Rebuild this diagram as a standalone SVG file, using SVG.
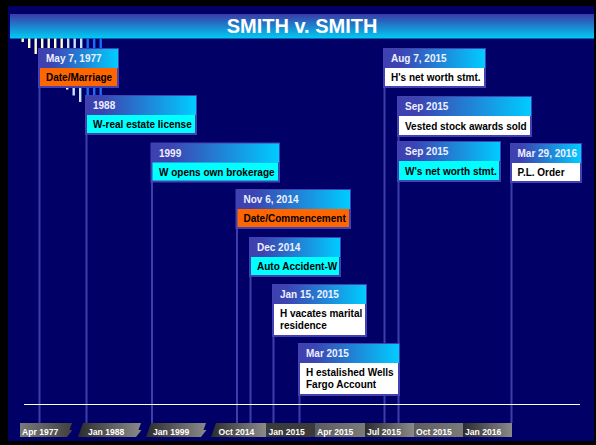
<svg xmlns="http://www.w3.org/2000/svg" width="596" height="445" viewBox="0 0 596 445">
<defs>
<linearGradient id="gTitle" x1="0" y1="0" x2="0" y2="1"><stop offset="0" stop-color="#3a3aa8"/><stop offset="1" stop-color="#00ccf4"/></linearGradient>
<linearGradient id="gHead" x1="0" y1="0" x2="1" y2="0"><stop offset="0" stop-color="#4040b0"/><stop offset="0.15" stop-color="#3c44b2"/><stop offset="1" stop-color="#00ccff"/></linearGradient>
<linearGradient id="gDark" x1="0" y1="0" x2="1" y2="0"><stop offset="0" stop-color="#2c2c2c"/><stop offset="1" stop-color="#8a8a8a"/></linearGradient>
<linearGradient id="gLight" x1="0" y1="0" x2="1" y2="0"><stop offset="0" stop-color="#5c5c5c"/><stop offset="1" stop-color="#7a7a7a"/></linearGradient>
<linearGradient id="gFirst" x1="0" y1="0" x2="1" y2="0"><stop offset="0" stop-color="#7a7a7a"/><stop offset="1" stop-color="#404040"/></linearGradient>
</defs>
<style>
text{font-family:"Liberation Sans",Arial,sans-serif;font-weight:bold}
.ttl{font-size:20px;fill:#ffffff}
.hd{font-size:10px;fill:#f0f0ff}
.bd{font-size:10px;fill:#000000}
.ax{font-size:8.6px;fill:#ffffff}
.frame{fill:#4242b2}
.head{fill:url(#gHead)}
.orange{fill:#ff6600}
.cyan{fill:#00ffff}
.white{fill:#ffffff}
.conn line{stroke:#3e3eaa;stroke-width:2}
.yel{fill:#ffffcc}
.lb{fill:#c4e4ff}
.bl{fill:#1a6cff}
</style>
<rect x="0" y="0" width="596" height="445" fill="#000000"/>
<rect x="8" y="6" width="586" height="435" fill="#000066"/>
<g id="title">
<rect x="10" y="14" width="584" height="24.5" fill="url(#gTitle)"/>
<text class="ttl" x="302" y="32.5" text-anchor="middle">SMITH v. SMITH</text>
</g>
<g id="deco">
<rect class="yel" x="21.5" y="38.5" width="2.4" height="3.5"/>
<rect class="yel" x="28" y="38.5" width="2.4" height="9.5"/>
<rect class="yel" x="34.5" y="38.5" width="2.4" height="15.5"/>
<rect class="yel" x="41" y="38.5" width="2.4" height="10"/>
<rect class="yel" x="47.5" y="38.5" width="2.4" height="10"/>
<rect class="yel" x="54" y="38.5" width="2.4" height="10"/>
<rect class="yel" x="60.5" y="38.5" width="2.4" height="10"/>
<rect class="lb" x="67" y="38.5" width="2.4" height="10"/>
<rect class="lb" x="73.5" y="38.5" width="2.4" height="10"/>
<rect class="lb" x="80" y="38.5" width="2.4" height="10"/>
<rect class="bl" x="86.5" y="38.5" width="2.4" height="10"/>
<rect class="bl" x="93" y="38.5" width="2.4" height="10"/>
<rect class="bl" x="99.5" y="38.5" width="2.4" height="10"/>
<rect class="white" x="66" y="88" width="2.4" height="1.5"/>
<rect class="lb" x="72.5" y="88" width="2.4" height="7.5"/>
<rect class="lb" x="79" y="88" width="2.4" height="14"/>
<rect class="bl" x="86.5" y="88" width="2.4" height="7.5"/>
<rect class="bl" x="93" y="88" width="2.4" height="7.5"/>
<rect class="bl" x="99.5" y="88" width="2.4" height="7.5"/>
</g>
<g id="connectors" class="conn">
<line x1="39.5" y1="88" x2="39.5" y2="423"/>
<line x1="86.5" y1="135" x2="86.5" y2="423"/>
<line x1="152" y1="182" x2="152" y2="423"/>
<line x1="237" y1="229" x2="237" y2="423"/>
<line x1="250.5" y1="277" x2="250.5" y2="423"/>
<line x1="273.5" y1="337" x2="273.5" y2="423"/>
<line x1="299.5" y1="396" x2="299.5" y2="423"/>
<line x1="384.5" y1="88" x2="384.5" y2="423"/>
<line x1="398.5" y1="137" x2="398.5" y2="423"/>
<line x1="511.5" y1="183" x2="511.5" y2="423"/>
</g>
<g id="axis">
<line x1="24" y1="404.5" x2="580" y2="404.5" stroke="#ffffff" stroke-width="1"/>
<polygon points="20,423 72,423 69.5,430 72.5,430 67,437 20,437" fill="url(#gFirst)"/>
<polygon points="83,423 141,423 138.5,430 141.5,430 136,437 78,437" fill="url(#gDark)"/>
<polygon points="151,423 206,423 203.5,430 206.5,430 201,437 146,437" fill="url(#gDark)"/>
<polygon points="216,423 266,423 266,437 211,437" fill="url(#gDark)"/>
<rect x="266" y="423" width="49" height="14" fill="#3a3a3a"/>
<rect x="315" y="423" width="50" height="14" fill="url(#gLight)"/>
<rect x="365" y="423" width="49" height="14" fill="url(#gDark)"/>
<rect x="414" y="423" width="49" height="14" fill="url(#gLight)"/>
<rect x="463" y="423" width="49" height="14" fill="url(#gDark)"/>
<text class="ax" x="22" y="434.5">Apr 1977</text>
<text class="ax" x="88" y="434.5">Jan 1988</text>
<text class="ax" x="153" y="434.5">Jan 1999</text>
<text class="ax" x="218.5" y="434.5">Oct 2014</text>
<text class="ax" x="268.5" y="434.5">Jan 2015</text>
<text class="ax" x="317" y="434.5">Apr 2015</text>
<text class="ax" x="367" y="434.5">Jul 2015</text>
<text class="ax" x="416" y="434.5">Oct 2015</text>
<text class="ax" x="465" y="434.5">Jan 2016</text>
</g>
<g id="n1977">
<rect class="frame" x="38" y="48" width="81" height="40"/>
<rect class="head" x="39" y="49" width="79" height="19"/>
<rect class="orange" x="40" y="68" width="77" height="18"/>
<text class="hd" x="46" y="62">May 7, 1977</text>
<text class="bd" x="46" y="81">Date/Marriage</text>
</g>
<g id="n1988">
<rect class="frame" x="85" y="95" width="112" height="40"/>
<rect class="head" x="86" y="96" width="110" height="19"/>
<rect class="cyan" x="87" y="115" width="108" height="18"/>
<text class="hd" x="93" y="109">1988</text>
<text class="bd" x="93" y="128">W-real estate license</text>
</g>
<g id="n1999">
<rect class="frame" x="150.5" y="142.5" width="129.5" height="40"/>
<rect class="head" x="151.5" y="143.5" width="127.5" height="19"/>
<rect class="cyan" x="152.5" y="162.5" width="125.5" height="18"/>
<text class="hd" x="159" y="156.5">1999</text>
<text class="bd" x="159" y="175.5">W opens own brokerage</text>
</g>
<g id="n2014nov">
<rect class="frame" x="235.5" y="189" width="115.5" height="40"/>
<rect class="head" x="236.5" y="190" width="113.5" height="19"/>
<rect class="orange" x="237.5" y="209" width="111.5" height="18"/>
<text class="hd" x="243.5" y="203">Nov 6, 2014</text>
<text class="bd" x="243.5" y="222">Date/Commencement</text>
</g>
<g id="n2014dec">
<rect class="frame" x="249" y="237" width="92" height="40"/>
<rect class="head" x="250" y="238" width="90" height="19"/>
<rect class="cyan" x="251" y="257" width="88" height="18"/>
<text class="hd" x="257" y="251">Dec 2014</text>
<text class="bd" x="257" y="270">Auto Accident-W</text>
</g>
<g id="n2015jan">
<rect class="frame" x="272" y="284" width="95" height="53"/>
<rect class="head" x="273" y="285" width="93" height="19"/>
<rect class="white" x="274" y="304" width="91" height="31"/>
<text class="hd" x="280" y="298">Jan 15, 2015</text>
<text class="bd" x="280" y="316.5">H vacates marital</text>
<text class="bd" x="280" y="329">residence</text>
</g>
<g id="n2015mar">
<rect class="frame" x="298" y="343" width="102" height="53"/>
<rect class="head" x="299" y="344" width="100" height="19"/>
<rect class="white" x="300" y="363" width="98" height="31"/>
<text class="hd" x="306" y="357">Mar 2015</text>
<text class="bd" x="306" y="375.5">H estalished Wells</text>
<text class="bd" x="306" y="388">Fargo Account</text>
</g>
<g id="n2015aug">
<rect class="frame" x="383" y="48" width="103" height="40"/>
<rect class="head" x="384" y="49" width="101" height="19"/>
<rect class="white" x="385" y="68" width="99" height="18"/>
<text class="hd" x="391" y="62">Aug 7, 2015</text>
<text class="bd" x="391" y="81">H's net worth stmt.</text>
</g>
<g id="n2015sep1">
<rect class="frame" x="397" y="96" width="135" height="41"/>
<rect class="head" x="398" y="97" width="133" height="19"/>
<rect class="white" x="399" y="116" width="131" height="19"/>
<text class="hd" x="405" y="110">Sep 2015</text>
<text class="bd" x="405" y="129.5">Vested stock awards sold</text>
</g>
<g id="n2015sep2">
<rect class="frame" x="397" y="141" width="104" height="41"/>
<rect class="head" x="398" y="142" width="102" height="19"/>
<rect class="cyan" x="399" y="161" width="100" height="19"/>
<text class="hd" x="405" y="155">Sep 2015</text>
<text class="bd" x="405" y="174.5">W's net worth stmt.</text>
</g>
<g id="n2016mar">
<rect class="frame" x="510" y="143" width="72" height="40"/>
<rect class="head" x="511" y="144" width="70" height="19"/>
<rect class="white" x="512" y="163" width="68" height="18"/>
<text class="hd" x="517.5" y="157">Mar 29, 2016</text>
<text class="bd" x="517.5" y="176">P.L. Order</text>
</g>
</svg>
